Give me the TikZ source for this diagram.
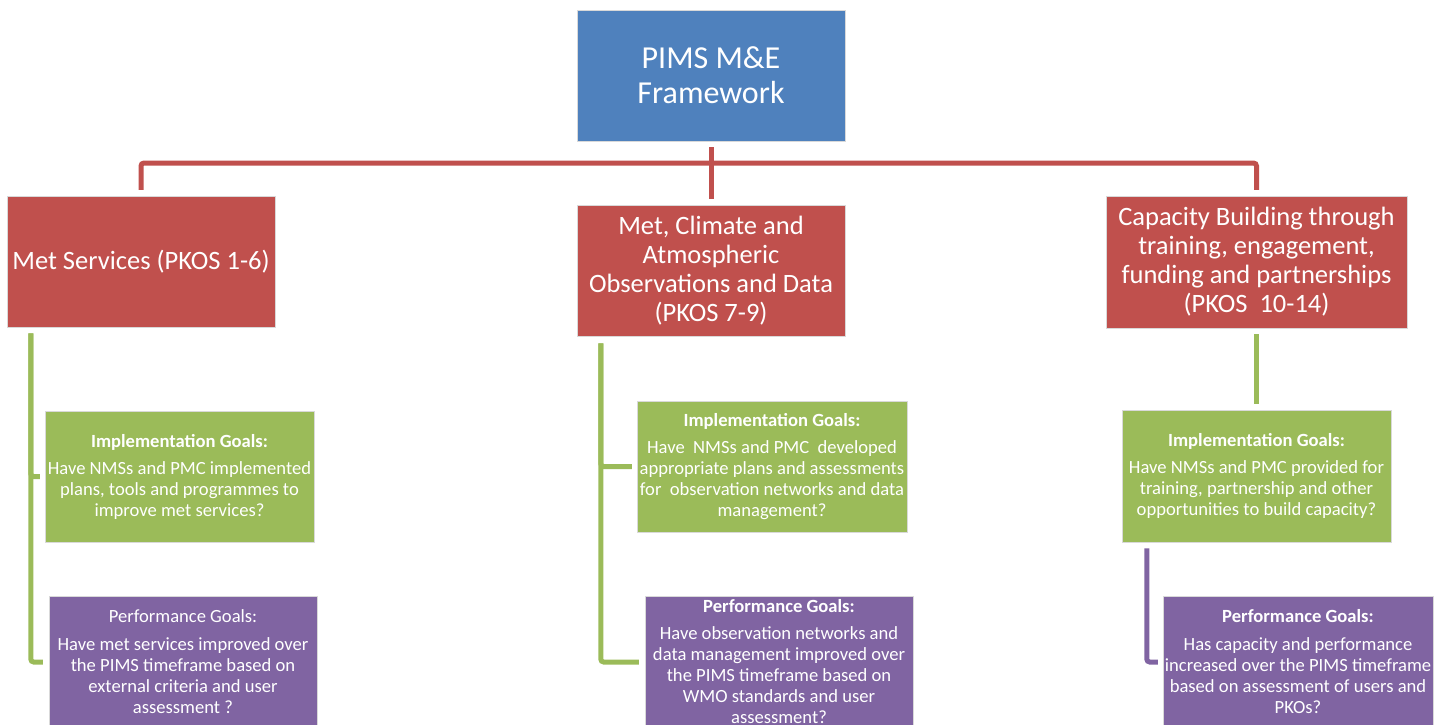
\documentclass[tikz,border=0pt]{standalone}
\usepackage{fontspec}
\setmainfont{Carlito}
\definecolor{cblue}{HTML}{4F81BD}
\definecolor{cred}{HTML}{C0504D}
\definecolor{cgreen}{HTML}{9BBB59}
\definecolor{cpurple}{HTML}{8064A2}
\begin{document}
\begin{tikzpicture}[x=1pt,y=-1pt,
  box/.style={draw=white!85!black, line width=0.5pt, text=white, align=center, inner sep=0pt},
  topbox/.style={box, fill=cblue, font=\fontsize{32}{35}\selectfont},
  redbox/.style={box, fill=cred, font=\fontsize{26.5}{29}\selectfont},
  implbox/.style={box, fill=cgreen, font=\fontsize{18.6}{21}\selectfont},
  perfbox/.style={box, fill=cpurple, font=\fontsize{18.6}{21}\selectfont},
  redline/.style={draw=cred, line width=5pt, rounded corners=3pt},
  greenline/.style={draw=cgreen, line width=5pt, rounded corners=3pt},
  purpleline/.style={draw=cpurple, line width=5pt, rounded corners=3pt}]
\useasboundingbox (0,0) rectangle (1446,724);
\clip (0,0) rectangle (1446,724);

\node[topbox, minimum width=268pt, minimum height=131pt] (top) at (711,75.5) {PIMS M\&E\\Framework};

\node[redbox, minimum width=268pt, minimum height=131pt] (ms) at (141,261.5) {Met Services (PKOS 1-6)};
\node[redbox, minimum width=268pt, minimum height=131pt] (mid) at (711,270.5) {Met, Climate and\\Atmospheric\\Observations and Data\\(PKOS 7-9)};
\node[redbox, minimum width=301pt, minimum height=132pt] (cb) at (1256.5,262) {Capacity Building through\\training, engagement,\\funding and partnerships\\(PKOS\ \ 10-14)};

\node[implbox, minimum width=269pt, minimum height=131pt] (ig1) at (179.5,476.5) {\textbf{Implementation Goals:}\\[6pt]Have NMSs and PMC implemented\\plans, tools and programmes to\\improve met services?};
\node[perfbox, minimum width=268pt, minimum height=132pt] (pg1) at (183,662) {Performance Goals:\\[7pt]Have met services improved over\\the PIMS timeframe based on\\external criteria and user\\assessment ?};

\node[implbox, minimum width=270pt, minimum height=131pt] (ig2) at (772,466.5) {\textbf{Implementation Goals:}\\[6pt]Have\ \ NMSs and PMC\ \ developed\\appropriate plans and assessments\\for\ \ observation networks and data\\management?};
\node[perfbox, minimum width=268pt, minimum height=132pt] (pg2) at (779,662) {\textbf{Performance Goals:}\\[6pt]Have observation networks and\\data management improved over\\the PIMS timeframe based on\\WMO standards and user\\assessment?};

\node[implbox, minimum width=269pt, minimum height=132pt] (ig3) at (1256.5,476) {\textbf{Implementation Goals:}\\[6pt]Have NMSs and PMC provided for\\training, partnership and other\\opportunities to build capacity?};
\node[perfbox, minimum width=270pt, minimum height=132pt] (pg3) at (1298,662) {\textbf{Performance Goals:}\\[7pt]Has capacity and performance\\increased over the PIMS timeframe\\based on assessment of users and\\PKOs?};

% red tree
\coordinate (hub) at (711,163);
\draw[redline] ([yshift=-6pt]top.south) -- ([yshift=6pt]mid.north);
\draw[redline] ([yshift=6pt]ms.north) |- (hub) -| ([yshift=6pt]cb.north);

% left branch
\coordinate (t1) at ([xshift=24pt,yshift=-6pt]ms.south west);
\draw[greenline] (t1) |- ([xshift=-5pt]ig1.west);
\draw[greenline] (t1) |- ([xshift=-6pt]pg1.west);

% middle branch
\coordinate (t2) at ([xshift=24pt,yshift=-7pt]mid.south west);
\draw[greenline] (t2) |- ([xshift=-5pt]ig2.west);
\draw[greenline] (t2) |- ([xshift=-6pt]pg2.west);

% right branch
\draw[greenline] ([yshift=-6pt]cb.south) -- ([yshift=6pt]ig3.north);
\coordinate (t3) at ([xshift=25pt,yshift=-6pt]ig3.south west);
\draw[purpleline] (t3) |- ([xshift=-5pt]pg3.west);
\end{tikzpicture}
\end{document}
